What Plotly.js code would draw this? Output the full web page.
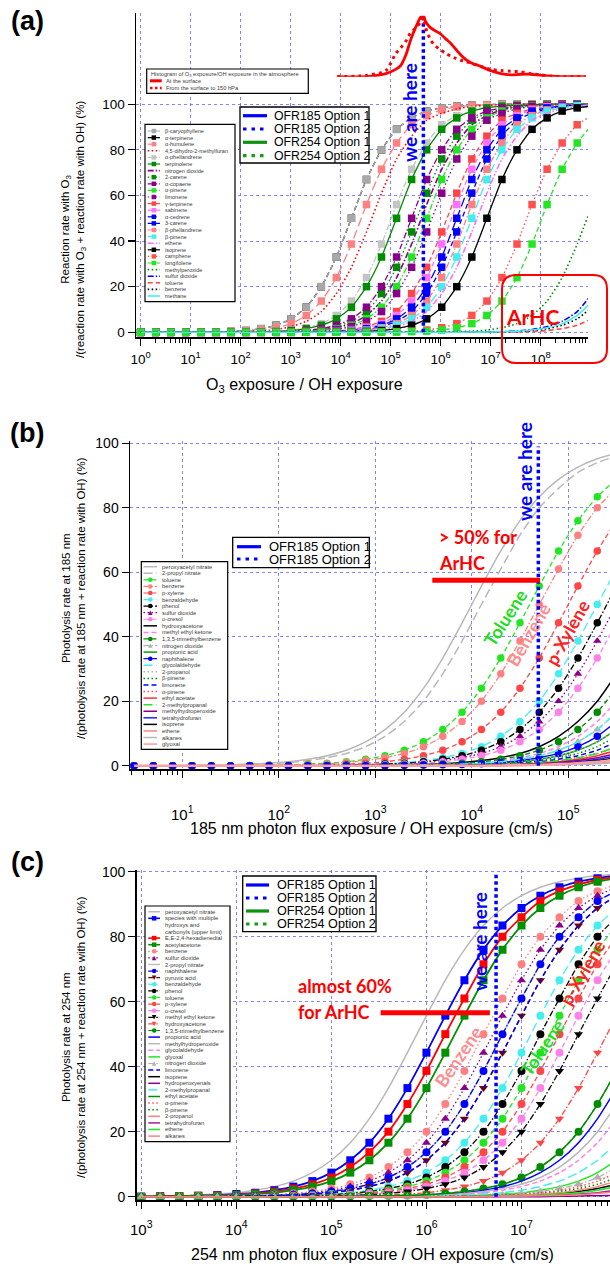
<!DOCTYPE html>
<html><head><meta charset="utf-8">
<script src="https://cdn.plot.ly/plotly-3.0.1.min.js"></script>
<style>html,body{margin:0;padding:0;background:#fff}#chart{width:610px;height:1266px}</style>
</head><body><div id="chart"></div>
<script>
// ======================= DATA =======================
// Panel (a): O3 exposure / OH exposure
const aExposure = [1,2,4,8,16,32,64,128,256,512,1024,2048,4096,8192,16384,32768,65536,131072,262144,524288,1048576,2097152,4194304,8388608,16777216,33554432,67108864,134217728,268435456,536870912,1073741824];
const aSpecies = ['β-caryophyllene','α-terpinene','α-humulene','4,5-dihydro-2-methylfuran','α-phellandrene','terpinolene','nitrogen dioxide','2-carene','α-copaene','α-pinene','limonene','γ-terpinene','sabinene','α-cedrene','3-carene','β-phellandrene','β-pinene','ethene','isoprene','camphene','longifolene','methylperoxide','sulfur dioxide','toluene','benzene','methane'];
const aRate = [
 [0,0,0,0,0.1,0.2,0.4,0.8,1.6,3.1,5.9,11,20,33,50,67,80,89,94,97,98.4,99.2,99.6,99.8,100,100,100,100,100,100,100],
 [0,0,0,0,0.1,0.2,0.4,0.8,1.6,3.1,5.9,11,20,33,50,67,80,89,94,97,98.4,99.2,99.6,99.8,100,100,100,100,100,100,100],
 [0,0,0,0,0.1,0.1,0.3,0.5,1,2,3.8,7.4,13.7,24,38.7,56,71.5,83,91,95,97.5,98.8,99.4,99.7,99.8,100,100,100,100,100,100],
 [0,0,0,0,0,0.1,0.2,0.3,0.6,1.2,2.5,4.8,9.1,17,28.5,44,61,76,86,93,96,98,99,99.5,99.8,99.9,100,100,100,100,100],
 [0,0,0,0,0,0,0.1,0.1,0.3,0.5,1,2,3.8,7.4,13.7,24,38.7,56,71.5,83,91,95,97.5,98.8,99.4,99.7,99.8,100,100,100,100],
 [0,0,0,0,0,0,0,0.1,0.2,0.4,0.8,1.6,3.1,5.9,11,20,33,50,67,80,89,94,97,98.4,99.2,99.6,99.8,100,100,100,100],
 [0,0,0,0,0,0,0,0,0.1,0.1,0.3,0.5,1,2,3.8,7.4,13.7,24,38.7,56,71.5,83,91,95,97.5,98.8,99.4,99.7,99.8,100,100],
 [0,0,0,0,0,0,0,0,0.1,0.2,0.3,0.6,1.2,2.5,4.8,9.1,17,28.5,44,61,76,86,93,96,98,99,99.5,99.8,99.9,100,100],
 [0,0,0,0,0,0,0,0,0.1,0.2,0.4,0.8,1.6,3.1,5.9,11,20,33,50,67,80,89,94,97,98.4,99.2,99.6,99.8,100,100,100],
 [0,0,0,0,0,0,0,0,0,0.1,0.2,0.4,0.8,1.6,3.1,5.9,11,20,33,50,67,80,89,94,97,98.4,99.2,99.6,99.8,100,100],
 [0,0,0,0,0,0,0,0,0,0.1,0.2,0.3,0.6,1.2,2.5,4.8,9.1,17,28.5,44,61,76,86,93,96,98,99,99.5,99.8,99.9,100],
 [0,0,0,0,0,0,0,0,0,0,0.1,0.2,0.3,0.6,1.2,2.5,4.8,9.1,17,28.5,44,61,76,86,93,96,98,99,99.5,99.8,99.9],
 [0,0,0,0,0,0,0,0,0,0,0.1,0.1,0.3,0.5,1,2,3.8,7.4,13.7,24,38.7,56,71.5,83,91,95,97.5,98.8,99.4,99.7,99.8],
 [0,0,0,0,0,0,0,0,0,0,0,0.1,0.2,0.4,0.8,1.6,3.1,5.9,11,20,33,50,67,80,89,94,97,98.4,99.2,99.6,99.8],
 [0,0,0,0,0,0,0,0,0,0,0,0.1,0.2,0.3,0.6,1.2,2.5,4.8,9.1,17,28.5,44,61,76,86,93,96,98,99,99.5,99.8],
 [0,0,0,0,0,0,0,0,0,0,0,0.1,0.1,0.3,0.5,1,2,3.8,7.4,13.7,24,38.7,56,71.5,83,91,95,97.5,98.8,99.4,99.7],
 [0,0,0,0,0,0,0,0,0,0,0,0,0.1,0.2,0.4,0.8,1.6,3.1,5.9,11,20,33,50,67,80,89,94,97,98.4,99.2,99.6],
 [0,0,0,0,0,0,0,0,0,0,0,0,0.1,0.2,0.3,0.6,1.2,2.5,4.8,9.1,17,28.5,44,61,76,86,93,96,98,99,99.5],
 [0,0,0,0,0,0,0,0,0,0,0,0,0,0.1,0.2,0.4,0.8,1.6,3.1,5.9,11,20,33,50,67,80,89,94,97,98.4,99.2],
 [0,0,0,0,0, 0,0,0,0,0, 0,0,0,0,0, 0.1,0.1,0.3,0.5,1,2,3.8,7.4,13.7,24,38.7,56,71.5,83,91,95],
 [0,0,0,0,0, 0,0,0,0,0, 0,0,0,0,0, 0,0.1,0.1,0.3,0.5,1,2,3.8,7.4,13.7,24,38.7,56,71.5,83,91],
 [0,0,0,0,0, 0,0,0,0,0, 0,0,0,0,0, 0,0,0,0, 0.1,0.1,0.3,0.5,1,2,3.8,7.4,13.7,24,38.7,56],
 [0,0,0,0,0, 0,0,0,0,0, 0,0,0,0,0, 0,0,0,0,0, 0,0, 0.1,0.2,0.3,0.6,1.2,2.5,4.8,9.1,17],
 [0,0,0,0,0, 0,0,0,0,0, 0,0,0,0,0, 0,0,0,0,0, 0,0,0,0, 0.1,0.2,0.4,0.8,1.6,3.1,5.9],
 [0,0,0,0,0, 0,0,0,0,0, 0,0,0,0,0, 0,0,0,0,0, 0,0,0, 0.1,0.2,0.4,0.8,1.6,3.1,5.9,11],
 [0,0,0,0,0, 0,0,0,0,0, 0,0,0,0,0, 0,0,0,0,0, 0,0, 0.1,0.1,0.3,0.5,1,2,3.8,7.4,13.7]
];
// Histogram of O3 exposure/OH exposure in the atmosphere (relative frequency, peak = 1)
const histExposure = [8500,32000,80000,126000,158000,200000,250000,320000,400000,450000,500000,630000,790000,1000000,1260000,1580000,2000000,2500000,3200000,4000000,6300000,1e7,1.6e7,2.5e7,4e7,6.3e7,1e8,1.6e8,3.2e8,8e8];
const histSurface = [0,0,0.05,0.12,0.18,0.35,0.6,0.82,0.98,1.0,0.9,0.8,0.75,0.7,0.62,0.55,0.45,0.36,0.28,0.23,0.17,0.1,0.05,0.03,0.04,0.04,0.02,0.01,0,0];
const histColumn = [0,0.02,0.1,0.38,0.47,0.58,0.72,0.8,0.9,0.97,0.8,0.6,0.5,0.44,0.38,0.34,0.3,0.27,0.25,0.22,0.17,0.12,0.1,0.09,0.08,0.05,0.03,0.01,0,0];
const aHereX = [450000,450000], aHereY = [0,139];
const aTickVals = [1,10,100,1e3,1e4,1e5,1e6,1e7,1e8];
const aTickText = ['10<sup>0</sup>','10<sup>1</sup>','10<sup>2</sup>','10<sup>3</sup>','10<sup>4</sup>','10<sup>5</sup>','10<sup>6</sup>','10<sup>7</sup>','10<sup>8</sup>'];

// Panel (b): 185 nm photon flux exposure / OH exposure (cm/s)
const bFlux = [3.16,5.01,7.94,12.6,20,31.6,50.1,79.4,126,200,316,501,794,1260,2000,3160,5010,7940,12600,20000,31600,50100,79400,126000,200000,316000];
const bSpecies = ['peroxyacetyl nitrate','2-propyl nitrate','toluene','benzene','p-xylene','benzaldehyde','phenol','sulfur dioxide','o-cresol','hydroxyacetone','methyl ethyl ketone','1,3,5-trimethylbenzene','nitrogen dioxide','propionic acid','naphthalene','glycolaldehyde','2-propanol','β-pinene','limonene','α-pinene','ethyl acetate','2-methylpropanal','methylhydroperoxide','tetrahydrofuran','isoprene','ethene','alkanes','glyoxal'];
const bRate = [
 [0,0,0, 0.1,0.2,0.3,0.5,0.8,1.2,2,3.1,4.8,7.4,11.2,16.6,24,33.4,44.3,55.7,66.6,76,83.4,88.8,92.6,95.2,96.9],
 [0,0,0, 0.1,0.2,0.3,0.4,0.6,1,1.6,2.5,3.8,5.9,9.1,13.7,20,28.5,38.7,50,61,71.5,80,86,91,94,96],
 [0,0,0,0,0,0, 0.1,0.2,0.3,0.5,0.8,1.2,2,3.1,4.8,7.4,11.2,16.6,24,33.4,44.3,55.7,66.6,76,83.4,88.8],
 [0,0,0,0,0,0, 0.1,0.2,0.3,0.4,0.6,1,1.6,2.5,3.8,5.9,9.1,13.7,20,28.5,38.7,50,61,71.5,80,86],
 [0,0,0,0,0,0,0,0, 0.1,0.2,0.3,0.5,0.8,1.2,2,3.1,4.8,7.4,11.2,16.6,24,33.4,44.3,55.7,66.6,76],
 [0,0,0,0,0,0,0,0,0, 0.1,0.2,0.3,0.4,0.6,1,1.6,2.5,3.8,5.9,9.1,13.7,20,28.5,38.7,50,61],
 [0,0,0,0,0,0,0,0,0,0, 0.1,0.2,0.3,0.5,0.8,1.2,2,3.1,4.8,7.4,11.2,16.6,24,33.4,44.3,55.7],
 [0,0,0,0,0,0,0,0,0,0, 0.1,0.2,0.3,0.4,0.6,1,1.6,2.5,3.8,5.9,9.1,13.7,20,28.5,38.7,50],
 [0,0,0,0,0,0,0,0,0,0,0, 0.1,0.2,0.3,0.5,0.8,1.2,2,3.1,4.8,7.4,11.2,16.6,24,33.4,44.3],
 [0,0,0,0,0,0,0,0,0,0,0,0, 0.1,0.2,0.3,0.4,0.6,1,1.6,2.5,3.8,5.9,9.1,13.7,20,28.5],
 [0,0,0,0,0,0,0,0,0,0,0,0,0, 0.1,0.2,0.3,0.4,0.6,1,1.6,2.5,3.8,5.9,9.1,13.7,20],
 [0,0,0,0,0,0,0,0,0,0,0,0,0, 0.1,0.2,0.3,0.5,0.8,1.2,2,3.1,4.8,7.4,11.2,16.6,24],
 [0,0,0,0,0,0,0,0,0,0,0,0,0,0, 0.1,0.2,0.3,0.5,0.8,1.2,2,3.1,4.8,7.4,11.2,16.6],
 [0,0,0,0,0,0,0,0,0,0,0,0,0,0,0, 0.1,0.2,0.3,0.5,0.8,1.2,2,3.1,4.8,7.4,11.2],
 [0,0,0,0,0,0,0,0,0,0,0,0,0,0, 0.1,0.2,0.3,0.4,0.6,1,1.6,2.5,3.8,5.9,9.1,13.7],
 [0,0,0,0,0,0,0,0,0,0,0,0,0,0, 0.1,0.2,0.3,0.5,0.8,1.2,2,3.1,4.8,7.4,11.2,16.6],
 [0,0,0,0,0,0,0,0,0,0,0,0,0,0,0, 0.1,0.2,0.3,0.5,0.8,1.2,2,3.1,4.8,7.4,11.2],
 [0,0,0,0,0,0,0,0,0,0,0,0,0,0,0, 0.1,0.2,0.3,0.4,0.6,1,1.6,2.5,3.8,5.9,9.1],
 [0,0,0,0,0,0,0,0,0,0,0,0,0,0,0,0, 0.1,0.2,0.3,0.5,0.8,1.2,2,3.1,4.8,7.4],
 [0,0,0,0,0,0,0,0,0,0,0,0,0,0,0,0, 0.1,0.2,0.3,0.4,0.6,1,1.6,2.5,3.8,5.9],
 [0,0,0,0,0,0,0,0,0,0,0,0,0,0,0,0,0, 0.1,0.2,0.3,0.5,0.8,1.2,2,3.1,4.8],
 [0,0,0,0,0,0,0,0,0,0,0,0,0,0,0,0, 0.1,0.2,0.3,0.4,0.6,1,1.6,2.5,3.8,5.9],
 [0,0,0,0,0,0,0,0,0,0,0,0,0,0,0,0,0, 0.1,0.2,0.3,0.4,0.6,1,1.6,2.5,3.8],
 [0,0,0,0,0,0,0,0,0,0,0,0,0,0,0,0,0,0, 0.1,0.2,0.3,0.5,0.8,1.2,2,3.1],
 [0,0,0,0,0,0,0,0,0,0,0,0,0,0,0,0,0,0, 0.1,0.2,0.3,0.4,0.6,1,1.6,2.5],
 [0,0,0,0,0,0,0,0,0,0,0,0,0,0,0,0,0,0,0,0, 0.1,0.2,0.3,0.5,0.8,1.2],
 [0,0,0,0,0,0,0,0,0,0,0,0,0,0,0,0,0,0,0,0, 0.1,0.2,0.3,0.4,0.6,1],
 [0,0,0,0,0,0,0,0,0,0,0,0,0,0,0,0,0,0,0, 0.1,0.2,0.3,0.5,0.8,1.2,2]
];
const bHereX = [49000,49000], bHereY = [0,99];
const bArhcX = [3900,51000], bArhcY = [57.5,57.5];
const bTickVals = [10,100,1e3,1e4,1e5];
const bTickText = ['10<sup>1</sup>','10<sup>2</sup>','10<sup>3</sup>','10<sup>4</sup>','10<sup>5</sup>'];

// Panel (c): 254 nm photon flux exposure / OH exposure (cm/s)
const cFlux = [1000,1580,2510,3980,6310,10000,15800,25100,39800,63100,100000,158000,251000,398000,631000,1000000,1580000,2510000,3980000,6310000,10000000,15800000,25100000,39800000,63100000,100000000];
const cSpecies = ['peroxyacetyl nitrate','species with multiple<br>hydroxys and<br>carbonyls (upper limit)','E,E-2,4-hexadienedial','acetylacetone','benzene','sulfur dioxide','2-propyl nitrate','naphthalene','pyruvic acid','benzaldehyde','phenol','toluene','p-xylene','o-cresol','methyl ethyl ketone','hydroxyacetone','1,3,5-trimethylbenzene','propionic acid','methylhydroperoxide','glycolaldehyde','glyoxal','nitrogen dioxide','limonene','isoprene','hydroperoxyenals','2-methylpropanal','ethyl acetate','α-pinene','β-pinene','2-propanol','tetrahydrofuran','ethene','alkanes'];
const cRate = [
 [0.1,0.2,0.3,0.5,0.8,1.2,2,3.1,4.8,7.4,11.2,16.6,24,33.4,44.3,55.7,66.6,76,83.4,88.8,92.6,95.2,96.9,98,98.8,99.2],
 [0, 0.1,0.2,0.3,0.5,0.8,1.2,2,3.1,4.8,7.4,11.2,16.6,24,33.4,44.3,55.7,66.6,76,83.4,88.8,92.6,95.2,96.9,98,98.8],
 [0, 0.1,0.2,0.3,0.4,0.6,1,1.6,2.5,3.8,5.9,9.1,13.7,20,28.5,38.7,50,61,71.5,80,86,91,94,96,97.5,98.4],
 [0,0, 0.1,0.2,0.3,0.5,0.8,1.2,2,3.1,4.8,7.4,11.2,16.6,24,33.4,44.3,55.7,66.6,76,83.4,88.8,92.6,95.2,96.9,98],
 [0,0,0, 0.1,0.2,0.3,0.4,0.6,1,1.6,2.5,3.8,5.9,9.1,13.7,20,28.5,38.7,50,61,71.5,80,86,91,94,96],
 [0,0,0,0, 0.1,0.2,0.3,0.5,0.8,1.2,2,3.1,4.8,7.4,11.2,16.6,24,33.4,44.3,55.7,66.6,76,83.4,88.8,92.6,95.2],
 [0,0,0,0, 0.1,0.2,0.3,0.4,0.6,1,1.6,2.5,3.8,5.9,9.1,13.7,20,28.5,38.7,50,61,71.5,80,86,91,94],
 [0,0,0,0, 0.1,0.2,0.3,0.4,0.6,1,1.6,2.5,3.8,5.9,9.1,13.7,20,28.5,38.7,50,61,71.5,80,86,91,94],
 [0,0,0,0,0, 0.1,0.2,0.3,0.5,0.8,1.2,2,3.1,4.8,7.4,11.2,16.6,24,33.4,44.3,55.7,66.6,76,83.4,88.8,92.6],
 [0,0,0,0,0,0, 0.1,0.2,0.3,0.5,0.8,1.2,2,3.1,4.8,7.4,11.2,16.6,24,33.4,44.3,55.7,66.6,76,83.4,88.8],
 [0,0,0,0,0,0, 0.1,0.2,0.3,0.4,0.6,1,1.6,2.5,3.8,5.9,9.1,13.7,20,28.5,38.7,50,61,71.5,80,86],
 [0,0,0,0,0,0,0, 0.1,0.2,0.3,0.5,0.8,1.2,2,3.1,4.8,7.4,11.2,16.6,24,33.4,44.3,55.7,66.6,76,83.4],
 [0,0,0,0,0,0,0, 0.1,0.2,0.3,0.4,0.6,1,1.6,2.5,3.8,5.9,9.1,13.7,20,28.5,38.7,50,61,71.5,80],
 [0,0,0,0,0,0,0,0, 0.1,0.2,0.3,0.5,0.8,1.2,2,3.1,4.8,7.4,11.2,16.6,24,33.4,44.3,55.7,66.6,76],
 [0,0,0,0,0,0,0,0, 0.1,0.2,0.3,0.4,0.6,1,1.6,2.5,3.8,5.9,9.1,13.7,20,28.5,38.7,50,61,71.5],
 [0,0,0,0,0,0,0,0,0,0, 0.1,0.2,0.3,0.5,0.8,1.2,2,3.1,4.8,7.4,11.2,16.6,24,33.4,44.3,55.7],
 [0,0,0,0,0,0,0,0,0,0,0, 0.1,0.2,0.3,0.4,0.6,1,1.6,2.5,3.8,5.9,9.1,13.7,20,28.5,38.7],
 [0,0,0,0,0,0,0,0,0,0,0,0, 0.1,0.2,0.3,0.5,0.8,1.2,2,3.1,4.8,7.4,11.2,16.6,24,33.4],
 [0,0,0,0,0,0,0,0,0,0,0,0, 0.1,0.2,0.3,0.4,0.6,1,1.6,2.5,3.8,5.9,9.1,13.7,20,28.5],
 [0,0,0,0,0,0,0,0,0,0,0,0,0, 0.1,0.2,0.3,0.5,0.8,1.2,2,3.1,4.8,7.4,11.2,16.6,24],
 [0,0,0,0,0,0,0,0,0,0,0,0,0,0,0, 0.1,0.2,0.3,0.5,0.8,1.2,2,3.1,4.8,7.4,11.2],
 [0,0,0,0,0,0,0,0,0,0,0,0,0,0,0, 0.1,0.2,0.3,0.4,0.6,1,1.6,2.5,3.8,5.9,9.1],
 [0,0,0,0,0, 0.1,0.2,0.3,0.5,0.8,1.2,2,3.1,4.8,7.4,11.2,16.6,24,33.4,44.3,55.7,66.6,76,83.4,88.8,92.6],
 [0,0,0,0,0,0,0,0,0,0,0,0,0,0,0,0,0, 0.1,0.2,0.3,0.4,0.6,1,1.6,2.5,3.8],
 [0,0,0,0,0,0,0,0,0,0,0,0,0,0,0,0,0,0,0,0,0,0, 0.1,0.2,0.3,0.4],
 [0,0,0,0,0,0,0,0,0,0,0,0,0,0, 0.1,0.2,0.3,0.5,0.8,1.2,2,3.1,4.8,7.4,11.2,16.6],
 [0,0,0,0,0,0,0,0,0,0,0, 0.1,0.2,0.3,0.4,0.6,1,1.6,2.5,3.8,5.9,9.1,13.7,20,28.5,38.7],
 [0,0,0,0,0,0,0,0,0,0,0,0,0,0,0,0, 0.1,0.2,0.3,0.5,0.8,1.2,2,3.1,4.8,7.4],
 [0,0,0,0,0,0,0,0,0,0,0,0,0,0,0,0, 0.1,0.2,0.3,0.4,0.6,1,1.6,2.5,3.8,5.9],
 [0,0,0,0,0,0,0,0,0,0,0,0,0,0,0,0,0, 0.1,0.2,0.3,0.5,0.8,1.2,2,3.1,4.8],
 [0,0,0,0,0,0,0,0,0,0,0,0,0,0,0,0,0,0,0, 0.1,0.2,0.3,0.5,0.8,1.2,2],
 [0,0,0,0,0,0,0,0,0,0,0,0,0,0,0,0,0,0, 0.1,0.2,0.3,0.5,0.8,1.2,2,3.1],
 [0,0,0,0,0,0,0,0,0,0,0,0,0,0,0,0,0,0,0, 0.1,0.2,0.3,0.4,0.6,1,1.6]
];
const cHereX = [5400000,5400000], cHereY = [0,100];
const cArhcX = [330000,4650000], cArhcY = [56.6,56.6];
const cTickVals = [1e3,1e4,1e5,1e6,1e7];
const cTickText = ['10<sup>3</sup>','10<sup>4</sup>','10<sup>5</sup>','10<sup>6</sup>','10<sup>7</sup>'];
const yTickVals = [0,20,40,60,80,100];

// ======================= STYLES =======================
// [color, marker symbol (null = line only), dash, line width]
const aStyle = [
 ['#a8a8a8','square','dash'],['#000000','square','dash'],['#ff8080','square','longdash'],['#ff0000',null,'dot',1.6],
 ['#c4c4c4','square','dashdot'],['#008c00','square','solid'],['#8b008b',null,'dashdot',1.6],['#008c00','square','dot'],
 ['#8b008b','square','dashdot'],['#22e622','square','dashdot'],['#8b008b','square','dot'],['#ff4646','square','dash'],
 ['#ff70ff','square','dash'],['#0000ff','square','longdash'],['#0000ff','square','dash'],['#ff8080','square','dashdot'],
 ['#44eeee','square','longdash'],['#ff70ff',null,'dashdotdot',1.6],['#000000','square','solid'],['#ff5050','square','dot'],
 ['#22e622','square','dash'],['#008c00',null,'dot',1.6],['#0000ff',null,'dashdot',1.6],['#ff4646',null,'dash',1.6],
 ['#000000',null,'dot',1.6],['#44eeee',null,'solid',1.6]
];
const bStyle = [
 ['#b8b8b8',null,'solid',1.5],['#b8b8b8',null,'longdash',1.5],['#22e622','circle','dash'],['#ff8080','circle','dashdot'],
 ['#ff4646','circle','dash'],['#44eeee','circle','longdash'],['#000000','circle','dashdot'],['#8b008b','triangle-up','dot'],
 ['#ff80e8','circle','dash'],['#000000',null,'solid',1.5],['#ff80e8',null,'dash',1.5],['#008c00','circle','dash'],
 ['#b0b0b0','triangle-up','dashdot'],['#00a000',null,'solid',1.5],['#0000ff','circle','solid'],['#44eeee',null,'longdash',1.5],
 ['#b0b0b0',null,'dot',1.5],['#008c00',null,'dot',1.5],['#0000ff',null,'dash',1.5],['#ff5050',null,'dot',1.5],
 ['#ff3030',null,'solid',1.5],['#22e622',null,'longdash',1.5],['#8b008b',null,'solid',1.5],['#2020ff',null,'solid',1.5],
 ['#000000',null,'solid',1.5],['#ff8080',null,'solid',1.5],['#b8b8b8',null,'solid',1.5],['#ffa0a0',null,'solid',2.5]
];
const cStyle = [
 ['#b8b8b8',null,'solid',1.5],['#0000ff','square','solid',1.8],['#ff0000','square','solid',1.8],['#009000','square','solid',1.8],
 ['#ff8080','circle','dot'],['#8b008b','triangle-up','dot'],['#c0c0c0',null,'solid',1.5],['#0000ff','circle','dashdot'],
 ['#7a0000','triangle-down','dash'],['#44eeee','circle','longdash'],['#000000','circle','dashdot'],['#22e622','circle','dash'],
 ['#ff4646','circle','dash'],['#ff80e8','circle','dash'],['#000000','triangle-down','dashdot'],['#ff4646','triangle-down','dashdot'],
 ['#008c00','circle','dash'],['#0000ff',null,'solid',1.5],['#b8b8b8',null,'solid',1.5],['#ff80e8',null,'dash',1.5],
 ['#22e622',null,'solid',1.5],['#b0b0b0','triangle-up','dashdot'],['#0000ff',null,'dash',1.5],['#000000',null,'solid',1.5],
 ['#8b008b',null,'solid',1.5],['#44eeee',null,'longdash',1.5],['#008c00',null,'solid',1.5],['#ff5050',null,'dot',1.5],
 ['#008c00',null,'dot',1.5],['#ff8080',null,'solid',1.5],['#a020a0',null,'solid',1.5],['#22e622',null,'solid',1.5],
 ['#ff8080',null,'solid',1.5]
];

// ======================= BUILD =======================
const W = 610, H = 1266;
const PX = x => x / W, PY = y => 1 - y / H;
const FONT = 'Arial, "Liberation Sans", sans-serif';
const BOLD = 'Lato, "Liberation Sans", Arial, sans-serif';
const traces = [], shapes = [], annotations = [];
const DASH = {solid:'solid', dot:'1.5px,2.5px', dash:'5px,3px', longdash:'9px,4px', dashdot:'6px,2px,1.5px,2px', dashdotdot:'6px,2px,1.5px,2px,1.5px,2px'};

function addCurves(xs, rates, names, styles, xa, ya, msize, order) {
  order.forEach(k => {
    const st = styles[k];
    const tr = {type:'scatter', x:xs, y:rates[k], xaxis:xa, yaxis:ya, name:names[k].replace(/<br>/g,' '),
      mode: st[1] ? 'lines+markers' : 'lines', showlegend:false, hoverinfo:'skip',
      line:{color:st[0], width:st[3] || 1.3, dash:DASH[st[2]], shape:'spline', smoothing:0.6}};
    if (st[1]) tr.marker = {symbol:st[1], size:msize, color:st[0], line:{width:0}};
    traces.push(tr);
  });
}
const range = n => Array.from({length:n}, (_, i) => i);
const aOrder = [1,0].concat(range(24).map(i => i + 2));
addCurves(aExposure, aRate, aSpecies, aStyle, 'x', 'y', 7.5, aOrder);
addCurves(bFlux, bRate, bSpecies, bStyle, 'x2', 'y2', 7.5, range(bSpecies.length));
addCurves(cFlux, cRate, cSpecies, cStyle, 'x3', 'y3', 8, range(cSpecies.length));

// histogram (own overlay axis pair)
traces.push({type:'scatter', x:histExposure, y:histSurface, xaxis:'x4', yaxis:'y4', mode:'lines', name:'At the surface',
  line:{color:'#ff0000', width:2.8, shape:'spline', smoothing:0.7}, showlegend:false, hoverinfo:'skip'});
traces.push({type:'scatter', x:histExposure, y:histColumn, xaxis:'x4', yaxis:'y4', mode:'lines', name:'From the surface to 150 hPa',
  line:{color:'#ff0000', width:3, dash:'3px,4px', shape:'spline', smoothing:0.7}, showlegend:false, hoverinfo:'skip'});

// "we are here" lines and ArHC bars
const HERE = {color:'#0000ff', width:3.5, dash:'3.5px,3px'};
[[aHereX,aHereY,'x','y'],[bHereX,bHereY,'x2','y2'],[cHereX,cHereY,'x3','y3']].forEach(([x,y,xa,ya]) =>
  traces.push({type:'scatter', x, y, xaxis:xa, yaxis:ya, mode:'lines', name:'OFR185 Option 2', line:HERE, showlegend:false, hoverinfo:'skip'}));
[[bArhcX,bArhcY,'x2','y2'],[cArhcX,cArhcY,'x3','y3']].forEach(([x,y,xa,ya]) =>
  traces.push({type:'scatter', x, y, xaxis:xa, yaxis:ya, mode:'lines', line:{color:'#ff0000', width:5}, showlegend:false, hoverinfo:'skip'}));

// ---------- helpers for legends / decorations (paper coordinates from pixels) ----------
function rect(x0,y0,x1,y1,color,width,fill){ shapes.push({type:'rect', xref:'paper', yref:'paper', x0:PX(x0), x1:PX(x1), y0:PY(y1), y1:PY(y0), line:{color, width}, fillcolor:fill || 'rgba(0,0,0,0)', layer:'above'}); }
function hline(x0,x1,y,color,width,dash){ shapes.push({type:'line', xref:'paper', yref:'paper', x0:PX(x0), x1:PX(x1), y0:PY(y), y1:PY(y), line:{color, width, dash:dash || 'solid'}, layer:'above'}); }
function mark(cx,cy,sym,s,color){
  const h = s / 2, base = {xref:'paper', yref:'paper', line:{width:0}, fillcolor:color, layer:'above'};
  if (sym === 'square') shapes.push(Object.assign({type:'rect', x0:PX(cx-h), x1:PX(cx+h), y0:PY(cy+h), y1:PY(cy-h)}, base));
  else if (sym === 'circle') shapes.push(Object.assign({type:'circle', x0:PX(cx-h), x1:PX(cx+h), y0:PY(cy+h), y1:PY(cy-h)}, base));
  else {
    const up = sym === 'triangle-up' ? -1 : 1;
    const p = `M${PX(cx)},${PY(cy + up*h)} L${PX(cx+h)},${PY(cy - up*h)} L${PX(cx-h)},${PY(cy - up*h)} Z`;
    shapes.push(Object.assign({type:'path', path:p}, base));
  }
}
function text(x,y,t,size,color,anchor,extra){
  annotations.push(Object.assign({xref:'paper', yref:'paper', x:PX(x), y:PY(y), text:t, showarrow:false,
    xanchor:anchor || 'center', yanchor:'middle', font:{family:FONT, size, color:color || '#000'}}, extra || {}));
}
function speciesLegend(box, names, styles, y0, dy, lx0, lx1, tx, fs) {
  rect(box[0], box[1], box[2], box[3], '#000', 1.2, '#ffffff');
  let y = y0;
  names.forEach((n, k) => {
    const st = styles[k];
    hline(lx0, lx1, y, st[0], Math.min(st[3] || 1.2, 1.6), DASH[st[2]]);
    if (st[1]) mark((lx0 + lx1) / 2, y, st[1], 4.5, st[0]);
    n.split('<br>').forEach((ln, j) => text(tx, y + j * dy, ln, fs, '#3a3a3a', 'left'));
    y += dy * n.split('<br>').length;
  });
}
function ofrLegend(box, items, ys, lx0, lx1, tx, fs) {
  rect(box[0], box[1], box[2], box[3], '#000', 1.3, '#ffffff');
  items.forEach((it, k) => {
    hline(lx0, lx1, ys[k], it[1], 3.2, it[2] === 'dot' ? '3.5px,5px' : 'solid');
    text(tx, ys[k], it[0], fs, '#000', 'left');
  });
}
const OFR4 = [['OFR185 Option 1','#0000ff','solid'],['OFR185 Option 2','#0000ff','dot'],['OFR254 Option 1','#109010','solid'],['OFR254 Option 2','#10a010','dot']];

speciesLegend([145,124.3,235,301.7], aSpecies, aStyle, 131, 6.6, 147.7, 160, 162.5, 5.5);
speciesLegend([141.3,561.7,227.7,749.3], bSpecies, bStyle, 566.7, 6.57, 143.5, 157, 159.5, 5.8);
speciesLegend([145,906,230,1141.7], cSpecies, cStyle, 911.7, 6.6, 148.3, 160, 162.5, 5.8);
ofrLegend([240,107,369,163], OFR4, [115.7,129,142.3,155.7], 243, 267, 271.5, 12.3);
ofrLegend([232.7,537.3,369.3,567.7], OFR4.slice(0,2), [546.7,559], 237, 261, 266.5, 13);
ofrLegend([242.7,876,376,931.7], OFR4, [885,898,911,924], 246, 269, 275, 12.6);

// histogram legend
rect(146.7,69,308.3,93.3,'#000',1.2,'#ffffff');
text(149,74.2,'Histogram of O<sub>3</sub> exposure/OH exposure in the atmosphere',5.7,'#3a3a3a','left');
hline(150,161.7,80.8,'#ff0000',3);
text(164,80.8,'At the surface',5.7,'#3a3a3a','left');
hline(150,161.7,88,'#ff0000',2.5,'2.5px,2.5px');
text(164,88,'From the surface to 150 hPa',5.7,'#3a3a3a','left');

// ArHC rounded box (a)
(function(){
  const x0=502, y0=275, x1=607, y1=363, r=14, P=(x,y)=>`${PX(x)},${PY(y)}`;
  shapes.push({type:'path', xref:'paper', yref:'paper', layer:'above', line:{color:'#ff0000', width:2},
    path:`M${P(x0+r,y0)} L${P(x1-r,y0)} Q${P(x1,y0)} ${P(x1,y0+r)} L${P(x1,y1-r)} Q${P(x1,y1)} ${P(x1-r,y1)} L${P(x0+r,y1)} Q${P(x0,y1)} ${P(x0,y1-r)} L${P(x0,y0+r)} Q${P(x0,y0)} ${P(x0+r,y0)} Z`});
})();
text(532,316,'<b>ArHC</b>',21,'#ff0000','center',{font:{family:BOLD,size:21,color:'#ff0000'}});

// panel labels
[['(a)',21],['(b)',433],['(c)',862]].forEach(([t,y]) => text(27,y,'<b>'+t+'</b>',27,'#000'));
// axis titles
text(73,230,'Reaction rate with O<sub>3</sub><br>/(reaction rate with O<sub>3</sub> + reaction rate with OH) (%)',11.5,'#000','center',{textangle:-90});
text(73,598,'Photolysis rate at 185 nm<br>/(photolysis rate at 185 nm + reaction rate with OH) (%)',11.5,'#000','center',{textangle:-90});
text(73,1037,'Photolysis rate at 254 nm<br>/(photolysis rate at 254 nm + reaction rate with OH) (%)',11.5,'#000','center',{textangle:-90});
text(304,385,'O<sub>3</sub> exposure / OH exposure',16);
text(371,828,'185 nm photon flux exposure / OH exposure (cm/s)',16);
text(372,1254,'254 nm photon flux exposure / OH exposure (cm/s)',16);
// we are here
const bf = (s,c) => ({font:{family:BOLD,size:s,color:c}});
text(409,113,'<b>we are here</b>',19,'#0000ff','center',Object.assign({textangle:-90},bf(19,'#0000ff')));
text(525,472,'<b>we are here</b>',19,'#0000ff','center',Object.assign({textangle:-90},bf(19,'#0000ff')));
text(479,942,'<b>we are here</b>',19,'#0000ff','center',Object.assign({textangle:-90},bf(19,'#0000ff')));
// (b) notes
text(437,537,'<b>> 50% for</b>',18,'#ff0000','left',bf(18,'#ff0000'));
text(437,563,'<b>ArHC</b>',18,'#ff0000','left',bf(18,'#ff0000'));
text(505,618,'<b>Toluene</b>',18,'#22dd22','center',Object.assign({textangle:-57},bf(18,'#22dd22')));
text(528,635,'<b>Benzene</b>',18,'#ff8c8c','center',Object.assign({textangle:-60},bf(18,'#ff8c8c')));
text(567,633,'<b>p-Xylene</b>',18,'#ff2020','center',Object.assign({textangle:-61},bf(18,'#ff2020')));
// (c) notes
text(296,986,'<b>almost 60%</b>',18,'#ff0000','left',bf(18,'#ff0000'));
text(296,1012,'<b>for ArHC</b>',18,'#ff0000','left',bf(18,'#ff0000'));
text(458,1057,'<b>Benzene</b>',18,'#ff8c8c','center',Object.assign({textangle:-56},bf(18,'#ff8c8c')));
text(542,1048,'<b>Toluene</b>',18,'#22dd22','center',Object.assign({textangle:-56},bf(18,'#22dd22')));
text(582,973,'<b>p-Xylene</b>',18,'#ff2020','center',Object.assign({textangle:-60},bf(18,'#ff2020')));

// ---------- axes ----------
function minorVals(d0, d1){ const v=[]; for(let d=d0; d<=d1; d++) for(let m=2;m<=9;m++) v.push(m*Math.pow(10,d)); return v; }
const GRID = 'rgba(90,90,255,0.75)';
function xAxis(dom, rng, tv, tt, anchor, fs, minor, standoff){
  return {domain:dom, range:rng, type:'log', anchor, tickmode:'array', tickvals:tv, ticktext:tt,
    showline:true, linecolor:'#000', linewidth:1.5, ticks:'outside', ticklen:7, tickwidth:1.3, tickcolor:'#000',
    ticklabelstandoff:standoff,
    showgrid:true, gridcolor:GRID, griddash:'dot', gridwidth:1, zeroline:false,
    tickfont:{family:FONT, size:fs, color:'#000'}, fixedrange:true,
    minor:{tickmode:'array', tickvals:minor, ticks:'outside', ticklen:4, tickwidth:1, tickcolor:'#000', showgrid:false}};
}
function yAxis(dom, rng, anchor, fs){
  return {domain:dom, range:rng, anchor, tickmode:'array', tickvals:yTickVals,
    showline:true, linecolor:'#000', linewidth:1.5, ticks:'outside', ticklen:7, tickwidth:1.3, tickcolor:'#000',
    showgrid:true, gridcolor:GRID, griddash:'dot', gridwidth:1, zeroline:false,
    tickfont:{family:FONT, size:fs, color:'#000'}, fixedrange:true};
}
const layout = {
  width:W, height:H, margin:{l:0,r:0,t:0,b:0}, paper_bgcolor:'#fff', plot_bgcolor:'rgba(0,0,0,0)', showlegend:false,
  xaxis: xAxis([136/W, 588/W], [-0.094, 8.946], aTickVals, aTickText, 'y', 13.5, minorVals(0,8), 2),
  yaxis: yAxis([PY(337), PY(13)], [-2.06, 140], 'x', 13.5),
  xaxis2: xAxis([130/W, 1], [0.458, 5.433], bTickVals, bTickText, 'y2', 15, minorVals(0,5), 24),
  yaxis2: yAxis([PY(769), PY(441)], [-1.02, 100.7], 'x2', 14),
  xaxis3: xAxis([136.7/W, 1], [2.952, 7.931], cTickVals, cTickText, 'y3', 15, minorVals(2,7), 8),
  yaxis3: yAxis([PY(1200), PY(870)], [-1.02, 100.5], 'x3', 14),
  xaxis4: {domain:[136/W, 588/W], range:[-0.094, 8.946], type:'log', anchor:'y4', visible:false, showgrid:false, zeroline:false, fixedrange:true},
  yaxis4: {domain:[PY(76.7), PY(15.7)], range:[0,1], anchor:'x4', visible:false, showgrid:false, zeroline:false, fixedrange:true},
  shapes, annotations
};
Plotly.newPlot('chart', traces, layout, {staticPlot:true, displayModeBar:false});
</script>
</body></html>
